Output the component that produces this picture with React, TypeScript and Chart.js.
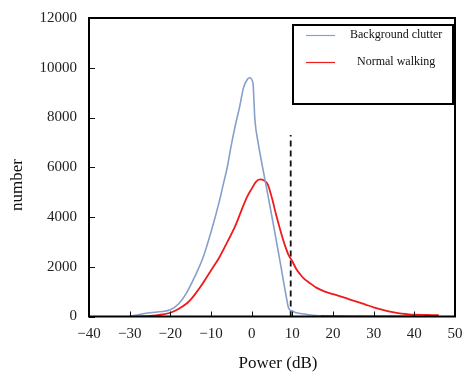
import React, { useEffect, useRef } from 'react';
import { Chart, registerables } from 'chart.js';

Chart.register(...registerables);

// ---- data ----
const clutterX = [-30, -27, -25, -22, -20, -18, -16, -14, -12, -10, -8, -7, -6, -5, -4, -3, -2, -1, -0.5, 0.3, 0.8, 1.6, 2.8, 3.6, 5, 6, 7, 8, 8.5, 9, 9.4, 10, 11, 13, 15, 17, 20, 25, 30, 35, 40];
const clutterY = [0, 100, 150, 200, 270, 500, 950, 1600, 2350, 3400, 4600, 5300, 6000, 6900, 7700, 8400, 9200, 9550, 9600, 9400, 7900, 6980, 5900, 5220, 4000, 3100, 2200, 1250, 800, 380, 260, 220, 150, 100, 50, 30, 15, 10, 10, 10, 10];

const walkX = [-30, -25, -22, -20, -18, -16, -15, -14, -12, -10, -8, -6, -4, -2, -1, 0, 1, 2, 3, 4, 5, 6, 7, 8, 9, 10, 11, 12, 13, 14, 16, 18, 20, 22, 24, 26, 28, 30, 32, 34, 36, 38, 40, 43, 46];
const walkY = [0, 20, 80, 150, 300, 520, 680, 880, 1340, 1850, 2360, 2990, 3650, 4480, 4850, 5130, 5400, 5510, 5480, 5290, 4750, 4100, 3500, 2950, 2500, 2220, 1900, 1680, 1500, 1380, 1150, 1000, 900, 800, 690, 590, 480, 370, 280, 200, 140, 100, 70, 60, 50];

const thresholdX = [9.6, 9.6];
const thresholdY = [0, 7300];

const xTicks = [-40, -30, -20, -10, 0, 10, 20, 30, 40, 50];
const yTicks = [0, 2000, 4000, 6000, 8000, 10000, 12000];

const seriesNames = ['Background clutter', 'Normal walking'];
const xTitle = 'Power (dB)';
const yTitle = 'number';

const clutterColor = '#879fc9';
const clutterTailColor = '#3f5c98';
const walkColor = '#ee1c1c';
const FONT = '"Liberation Serif", "Times New Roman", serif';

const zip = (xs: number[], ys: number[]) => xs.map((x, i) => ({ x, y: ys[i] }));

const decorPlugin = {
  id: 'decor',
  afterDraw(chart: any) {
    const { ctx, chartArea, scales } = chart;
    const { left, right, top, bottom } = chartArea;
    ctx.save();
    // inward tick marks
    ctx.strokeStyle = '#111';
    ctx.lineWidth = 1;
    ctx.beginPath();
    xTicks.forEach((v) => {
      const px = Math.round(scales.x.getPixelForValue(v)) + 0.5;
      ctx.moveTo(px, bottom);
      ctx.lineTo(px, bottom - 5);
    });
    yTicks.forEach((v) => {
      const py = Math.round(scales.y.getPixelForValue(v)) + 0.5;
      ctx.moveTo(left, py);
      ctx.lineTo(left + 6, py);
    });
    ctx.stroke();
    // frame
    ctx.lineWidth = 2;
    ctx.strokeStyle = '#000';
    ctx.strokeRect(left, top, right - left, bottom - top);

    // axis titles
    ctx.fillStyle = '#111';
    ctx.font = `17px ${FONT}`;
    ctx.textAlign = 'center';
    ctx.textBaseline = 'middle';
    ctx.fillText(xTitle, 278, 364);
    ctx.save();
    ctx.translate(18, 185);
    ctx.rotate(-Math.PI / 2);
    ctx.fillText(yTitle, 0, 0);
    ctx.restore();

    // legend box
    const bx = 293, by = 25, bw = 160, bh = 79;
    ctx.fillStyle = '#fff';
    ctx.fillRect(bx, by, bw, bh);
    ctx.lineWidth = 2;
    ctx.strokeStyle = '#000';
    ctx.strokeRect(bx, by, bw, bh);
    const items = [
      { name: seriesNames[0], color: clutterColor, y: 35, tx: 350 },
      { name: seriesNames[1], color: walkColor, y: 62, tx: 357 },
    ];
    ctx.font = `12px ${FONT}`;
    ctx.textAlign = 'left';
    ctx.textBaseline = 'middle';
    items.forEach((it) => {
      ctx.strokeStyle = it.color;
      ctx.lineWidth = 1.2;
      ctx.beginPath();
      ctx.moveTo(306, it.y + 0.5);
      ctx.lineTo(335, it.y + 0.5);
      ctx.stroke();
      ctx.fillStyle = '#111';
      ctx.fillText(it.name, it.tx, it.y);
    });
    ctx.restore();
  },
};

export default function App() {
  const ref = useRef<HTMLCanvasElement>(null);
  useEffect(() => {
    if (!ref.current) return;
    const chart = new Chart(ref.current, {
      type: 'line',
      data: {
        datasets: [
          {
            label: seriesNames[0],
            data: zip(clutterX, clutterY),
            borderColor: clutterColor,
            borderWidth: 1.6,
            pointRadius: 0,
            cubicInterpolationMode: 'monotone',
            segment: {
              borderColor: (c: any) => (c.p0.parsed.x >= 17 ? clutterTailColor : undefined),
            },
          },
          {
            label: seriesNames[1],
            data: zip(walkX, walkY),
            borderColor: walkColor,
            borderWidth: 1.8,
            pointRadius: 0,
            cubicInterpolationMode: 'monotone',
          },
          {
            label: 'threshold',
            data: zip(thresholdX, thresholdY),
            borderColor: '#111',
            borderWidth: 1.8,
            borderDash: [6, 4],
            pointRadius: 0,
          },
        ],
      },
      options: {
        animation: false,
        responsive: false,
        maintainAspectRatio: false,
        layout: { padding: { left: 0, top: 18, right: 8, bottom: 0 } },
        plugins: { legend: { display: false }, tooltip: { enabled: false } },
        scales: {
          x: {
            type: 'linear',
            min: -40,
            max: 50,
            afterFit: (s: any) => { s.height = 58.5; s.paddingLeft = 0; s.paddingRight = 0; },
            afterBuildTicks: (s: any) => { s.ticks = xTicks.map((v) => ({ value: v })); },
            grid: { display: false, drawTicks: false },
            border: { display: false },
            ticks: {
              padding: 9,
              color: '#222',
              font: { family: FONT, size: 15 },
              maxRotation: 0,
              callback: (v: any) => String(v).replace('-', '\u2212'),
            },
          },
          y: {
            type: 'linear',
            min: 0,
            max: 12000,
            afterFit: (s: any) => { s.width = 89; s.paddingTop = 0; s.paddingBottom = 0; },
            afterBuildTicks: (s: any) => { s.ticks = yTicks.map((v) => ({ value: v })); },
            grid: { display: false, drawTicks: false },
            border: { display: false },
            ticks: {
              padding: 12,
              color: '#222',
              font: { family: FONT, size: 15 },
              callback: (v: any) => String(v),
            },
          },
        },
      },
      plugins: [decorPlugin],
    } as any);
    return () => chart.destroy();
  }, []);
  return (
    <div style={{ position: 'fixed', left: 0, top: 0, width: 463, height: 375, background: '#fff' }}>
      <canvas ref={ref} width={463} height={375} style={{ width: 463, height: 375 }} />
    </div>
  );
}
